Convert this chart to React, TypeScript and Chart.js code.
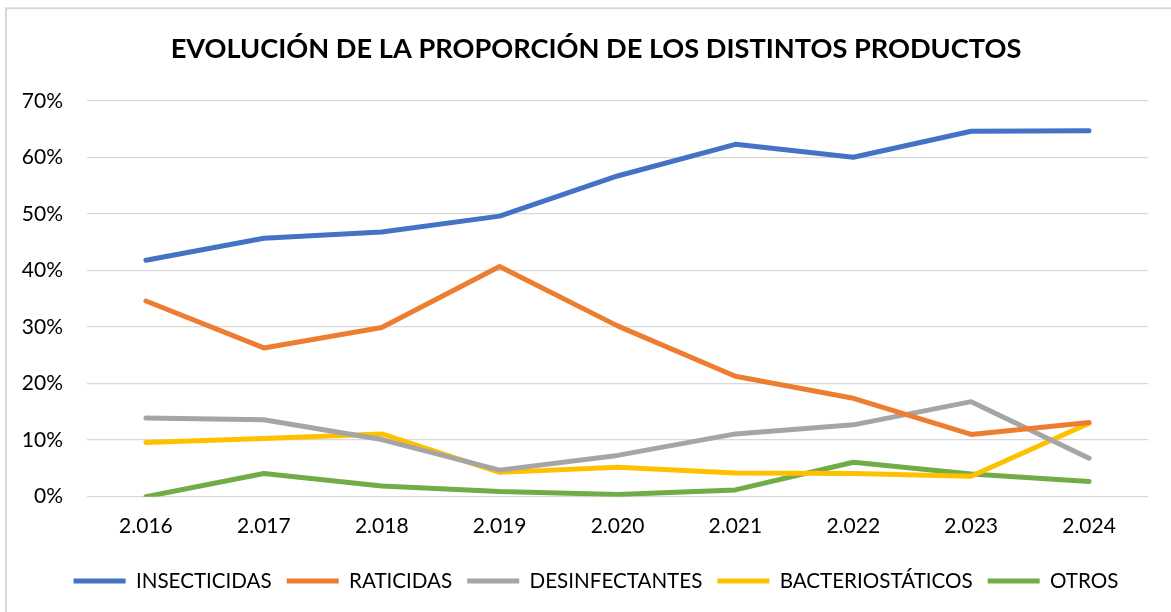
import React, { useEffect, useRef } from "react";
import { Chart, registerables } from "chart.js";

Chart.register(...registerables);

const years = ["2.016", "2.017", "2.018", "2.019", "2.020", "2.021", "2.022", "2.023", "2.024"];
const insecticidas = [41.8, 45.7, 46.8, 49.6, 56.7, 62.3, 60.0, 64.6, 64.7];
const raticidas = [34.6, 26.3, 29.9, 40.7, 30.2, 21.3, 17.4, 11.0, 13.1];
const desinfectantes = [13.9, 13.6, 10.1, 4.7, 7.3, 11.1, 12.7, 16.8, 6.8];
const bacteriostaticos = [9.6, 10.3, 11.1, 4.3, 5.2, 4.2, 4.1, 3.6, 13.0];
const otros = [0.0, 4.1, 1.9, 0.9, 0.4, 1.2, 6.1, 4.0, 2.7];

const seriesNames = ["INSECTICIDAS", "RATICIDAS", "DESINFECTANTES", "BACTERIOSTÁTICOS", "OTROS"];
const seriesColors = ["#4472C4", "#ED7D31", "#A5A5A5", "#FFC000", "#70AD47"];
const titleText = "EVOLUCIÓN DE LA PROPORCIÓN DE LOS DISTINTOS PRODUCTOS";

const FONT = "Lato, 'Noto Sans', sans-serif";
const CANVAS_W = 1210;
const CANVAS_H = 612;

const borderPlugin = {
  id: "frameBorder",
  beforeDraw(chart: any) {
    const ctx = chart.ctx;
    ctx.save();
    ctx.fillStyle = "#ffffff";
    ctx.fillRect(0, 0, chart.width, chart.height);
    ctx.strokeStyle = "#d9d9d9";
    ctx.lineWidth = 2;
    ctx.strokeRect(6, 8.3, chart.width + 50, chart.height + 50);
    ctx.restore();
  },
};

export default function App() {
  const ref = useRef<HTMLCanvasElement>(null);
  useEffect(() => {
    if (!ref.current) return;
    const all = [insecticidas, raticidas, desinfectantes, bacteriostaticos, otros];
    const chart = new Chart(ref.current, {
      type: "line",
      data: {
        labels: years,
        datasets: all.map((d, i) => ({
          label: seriesNames[i],
          data: d,
          yAxisID: "y",
          borderColor: seriesColors[i],
          backgroundColor: seriesColors[i],
          borderWidth: 5,
          borderCapStyle: "round",
          borderJoinStyle: "round",
          pointRadius: 0,
          pointHoverRadius: 0,
          tension: 0,
          fill: false,
        })),
      },
      options: {
        responsive: false,
        animation: false,
        layout: { padding: { left: 0, right: CANVAS_W - 1148 - 44, top: 0, bottom: 10.7 } },
        plugins: {
          tooltip: { enabled: false },
          title: {
            display: true,
            text: titleText,
            color: "#000000",
            font: { family: FONT, size: 27.2, weight: "bold" },
            padding: { top: 32.5, bottom: 35.6 },
          },
          legend: {
            position: "bottom",
            labels: {
              color: "#000000",
              font: { family: FONT, size: 20.6 },
              usePointStyle: true,
              pointStyle: "line",
              pointStyleWidth: 52,
              padding: 15,
            },
          },
        },
        scales: {
          x: {
            offset: true,
            grid: { display: false, drawTicks: false },
            border: { display: false },
            ticks: { color: "#000000", font: { family: FONT, size: 21 }, padding: 17, maxRotation: 0 },
            afterFit(scale: any) {
              scale.height = 59;
            },
          },
          y: {
            min: 0,
            max: 70,
            grid: { color: "#d9d9d9", lineWidth: 1.3, drawTicks: false },
            border: { display: false },
            ticks: {
              stepSize: 10,
              color: "#000000",
              font: { family: FONT, size: 21 },
              padding: 24,
              callback: (v: any) => v + "%",
            },
            afterFit(scale: any) {
              scale.width = 87;
            },
          },
          yr: {
            type: "linear",
            position: "right",
            grid: { display: false, drawTicks: false },
            border: { display: false },
            ticks: { display: false },
            afterFit(scale: any) {
              scale.width = 44;
            },
          },
        },
      },
      plugins: [borderPlugin],
    });
    return () => chart.destroy();
  }, []);
  return (
    <div style={{ position: "absolute", left: 0, top: 0, width: 1171, height: 612, overflow: "hidden" }}>
      <canvas ref={ref} width={CANVAS_W} height={CANVAS_H} style={{ width: CANVAS_W, height: CANVAS_H, display: "block" }} />
    </div>
  );
}
